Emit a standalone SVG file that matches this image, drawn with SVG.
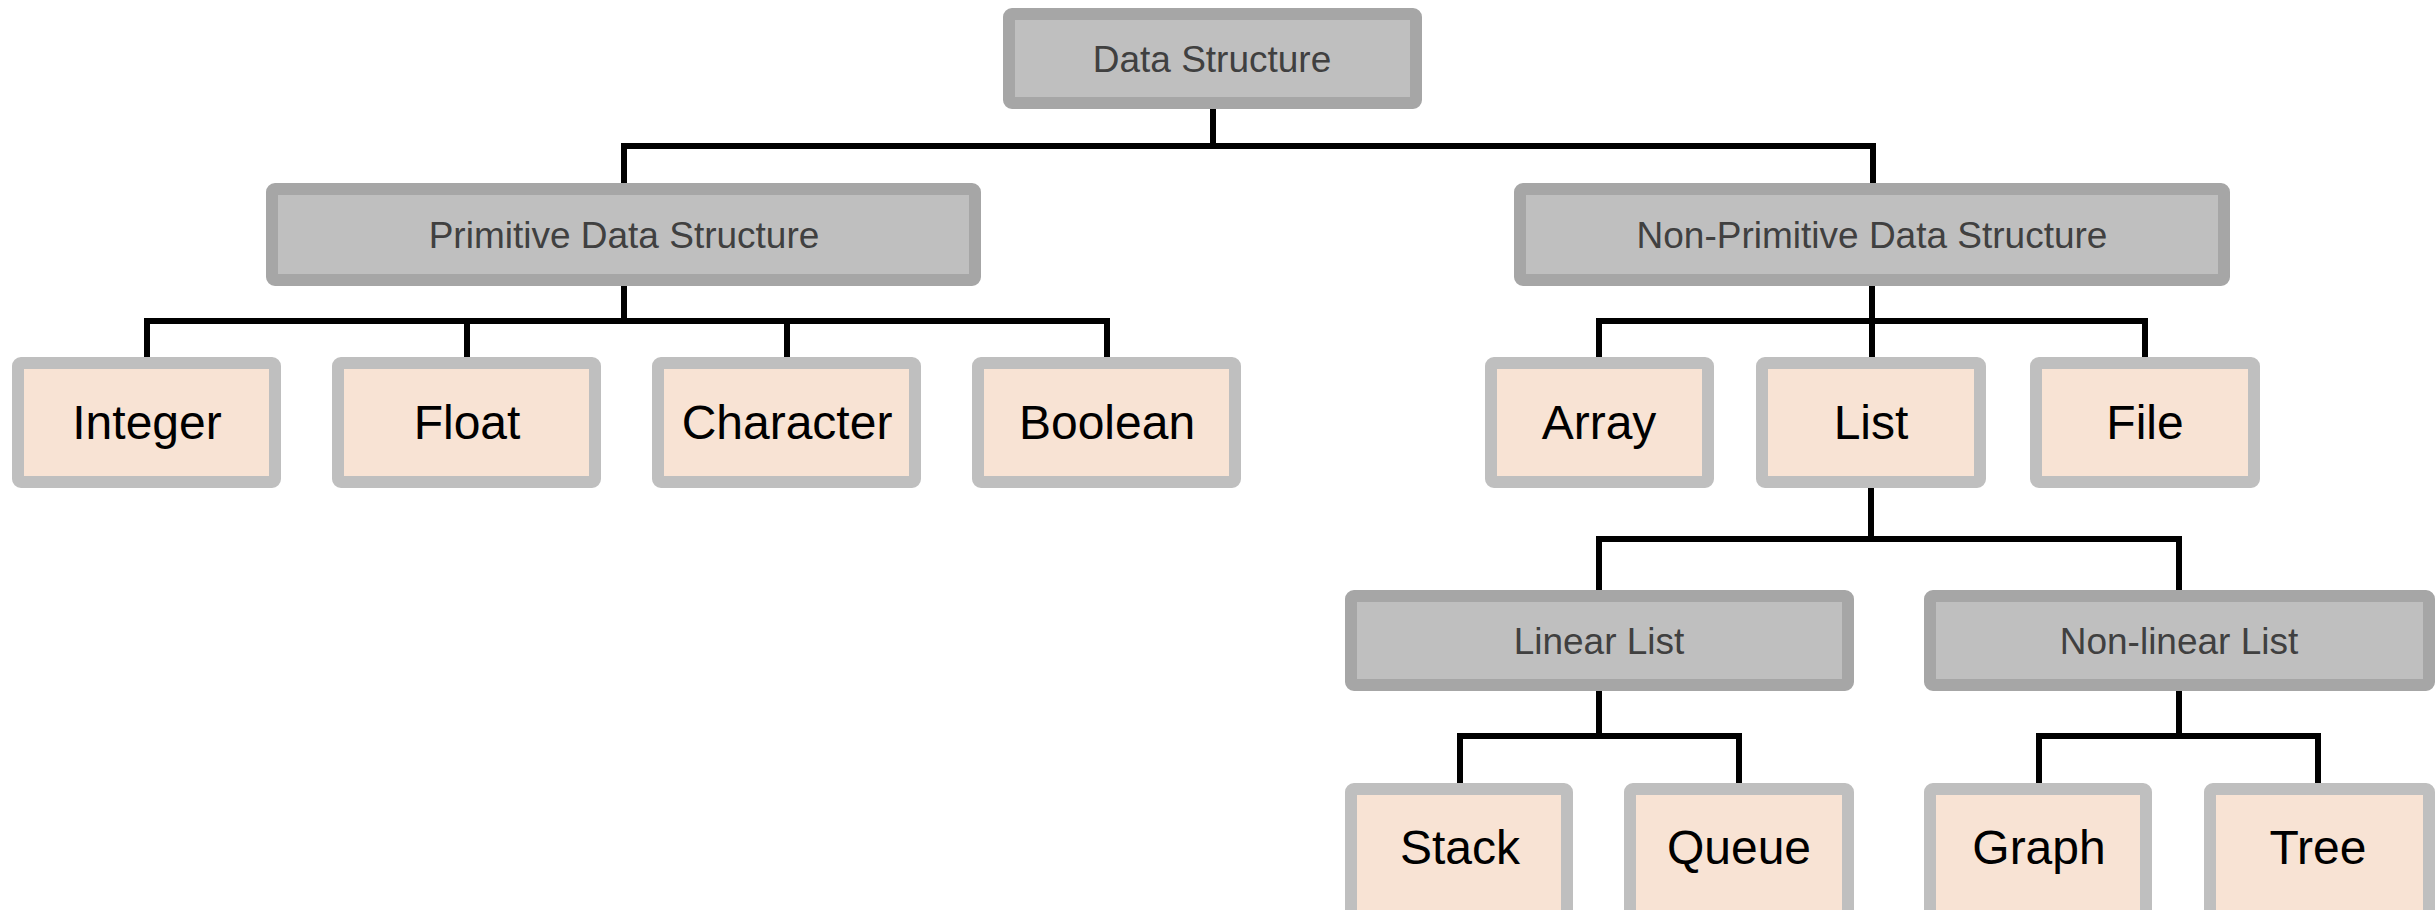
<svg xmlns="http://www.w3.org/2000/svg" width="2435" height="910" viewBox="0 0 2435 910">
<style>
.hdr rect{fill:#bfbfbf;stroke:#a6a6a6;stroke-width:12;}
.hdr text{font-family:"Liberation Sans",Arial,sans-serif;font-size:37px;fill:#404040;text-anchor:middle;}
.leaf rect{fill:#f8e3d4;stroke:#bfbfbf;stroke-width:12;}
.leaf text{font-family:"Liberation Sans",Arial,sans-serif;font-size:48px;fill:#000;text-anchor:middle;}
#connectors path{fill:none;stroke:#000;stroke-width:6;}
</style>
<rect width="2435" height="910" fill="#fff"/>
<g id="connectors">
<path d="M1213 109V146M624 183V146H1873V183"/>
<path d="M624 286V321M147 357V321H1107V357M467 321V357M787 321V357"/>
<path d="M1872 286V357M1599 357V321H2145V357"/>
<path d="M1871 488V539M1599 590V539H2179V590"/>
<path d="M1599 691V736M1460 783V736H1739V783"/>
<path d="M2179 691V736M2039 783V736H2318V783"/>
</g>
<g id="data-structure" class="hdr"><rect x="1009" y="14" width="407" height="89" rx="3"/><text x="1212" y="72">Data Structure</text></g>
<g id="primitive" class="hdr"><rect x="272" y="189" width="703" height="91" rx="3"/><text x="624" y="248">Primitive Data Structure</text></g>
<g id="non-primitive" class="hdr"><rect x="1520" y="189" width="704" height="91" rx="3"/><text x="1872" y="248">Non-Primitive Data Structure</text></g>
<g id="linear-list" class="hdr"><rect x="1351" y="596" width="497" height="89" rx="3"/><text x="1599" y="654">Linear List</text></g>
<g id="nonlinear-list" class="hdr"><rect x="1930" y="596" width="499" height="89" rx="3"/><text x="2179" y="654">Non-linear List</text></g>
<g id="integer" class="leaf"><rect x="18" y="363" width="257" height="119" rx="3"/><text x="147" y="439">Integer</text></g>
<g id="float" class="leaf"><rect x="338" y="363" width="257" height="119" rx="3"/><text x="467" y="439">Float</text></g>
<g id="character" class="leaf"><rect x="658" y="363" width="257" height="119" rx="3"/><text x="787" y="439">Character</text></g>
<g id="boolean" class="leaf"><rect x="978" y="363" width="257" height="119" rx="3"/><text x="1107" y="439">Boolean</text></g>
<g id="array" class="leaf"><rect x="1491" y="363" width="217" height="119" rx="3"/><text x="1599" y="439">Array</text></g>
<g id="list" class="leaf"><rect x="1762" y="363" width="218" height="119" rx="3"/><text x="1871" y="439">List</text></g>
<g id="file" class="leaf"><rect x="2036" y="363" width="218" height="119" rx="3"/><text x="2145" y="439">File</text></g>
<g id="stack" class="leaf"><rect x="1351" y="789" width="216" height="130" rx="3"/><text x="1460" y="864">Stack</text></g>
<g id="queue" class="leaf"><rect x="1630" y="789" width="218" height="130" rx="3"/><text x="1739" y="864">Queue</text></g>
<g id="graph" class="leaf"><rect x="1930" y="789" width="216" height="130" rx="3"/><text x="2039" y="864">Graph</text></g>
<g id="tree" class="leaf"><rect x="2210" y="789" width="219" height="130" rx="3"/><text x="2318" y="864">Tree</text></g>
</svg>
